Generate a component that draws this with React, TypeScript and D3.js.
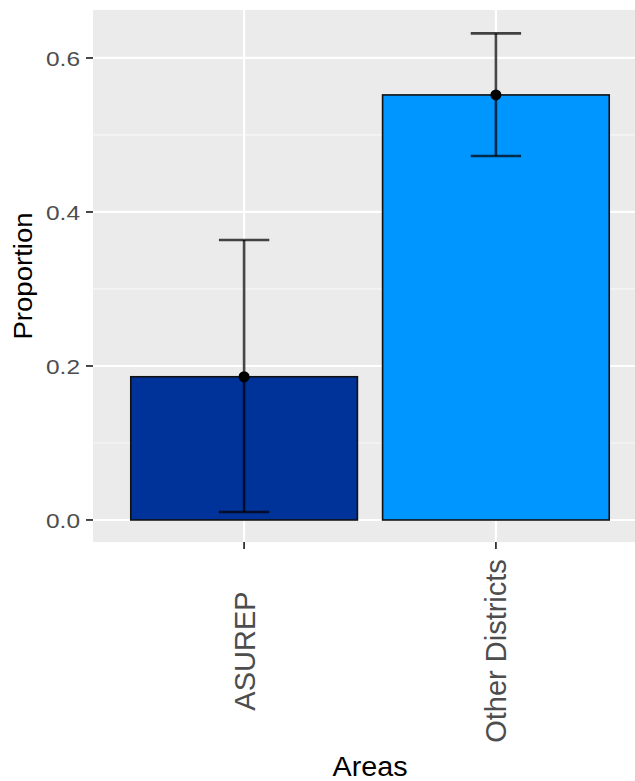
import { useEffect, useRef } from "react";
import * as d3 from "d3";

const areas = ["ASUREP", "Other Districts"];
const proportions = [0.186, 0.552];
const lowerCI = [0.0104, 0.4727];
const upperCI = [0.3636, 0.632];
const barColors = ["#00339A", "#0096FF"];
const yTicks = [0, 0.2, 0.4, 0.6];
const yMinorTicks = [0.1, 0.3, 0.5];

const WIDTH = 635;
const HEIGHT = 781;

export default function App() {
  const svgRef = useRef<SVGSVGElement>(null);

  useEffect(() => {
    if (!svgRef.current) return;
    const svg = d3.select(svgRef.current);
    svg.selectAll("*").remove();

    const panel = { left: 93, top: 10, right: 647, bottom: 542 };
    const font = "'Liberation Sans', Arial, sans-serif";

    // ggplot-like discrete x: categories at 1..n, expanded by 0.6 each side
    const x = d3.scaleLinear()
      .domain([0.4, areas.length + 0.6])
      .range([panel.left, panel.right]);

    const y = d3.scaleLinear()
      .domain([-0.0286, 0.6623])
      .range([panel.bottom, panel.top]);

    // Panel background
    svg.append("rect")
      .attr("x", panel.left)
      .attr("y", panel.top)
      .attr("width", panel.right - panel.left)
      .attr("height", panel.bottom - panel.top)
      .attr("fill", "#EBEBEB");

    // Minor gridlines
    svg.append("g")
      .selectAll("line")
      .data(yMinorTicks)
      .join("line")
      .attr("x1", panel.left)
      .attr("x2", panel.right)
      .attr("y1", d => y(d))
      .attr("y2", d => y(d))
      .attr("stroke", "#F7F7F7")
      .attr("stroke-width", 1.2);

    // Major gridlines
    svg.append("g")
      .selectAll("line")
      .data(yTicks)
      .join("line")
      .attr("x1", panel.left)
      .attr("x2", panel.right)
      .attr("y1", d => y(d))
      .attr("y2", d => y(d))
      .attr("stroke", "#FFFFFF")
      .attr("stroke-width", 2.2);

    svg.append("g")
      .selectAll("line")
      .data(areas)
      .join("line")
      .attr("x1", (_, i) => x(i + 1))
      .attr("x2", (_, i) => x(i + 1))
      .attr("y1", panel.top)
      .attr("y2", panel.bottom)
      .attr("stroke", "#FFFFFF")
      .attr("stroke-width", 2.2);

    // Bars
    const barHalf = x(1.45) - x(1);
    svg.append("g")
      .selectAll("rect")
      .data(proportions)
      .join("rect")
      .attr("x", (_, i) => x(i + 1) - barHalf)
      .attr("width", barHalf * 2)
      .attr("y", d => y(d))
      .attr("height", d => y(0) - y(d))
      .attr("fill", (_, i) => barColors[i])
      .attr("stroke", "#111")
      .attr("stroke-width", 1.6);

    // Error bars
    const capHalf = x(1.1) - x(1);
    const eb = svg.append("g")
      .attr("stroke", "#000")
      .attr("stroke-opacity", 0.72)
      .attr("stroke-width", 2.6);

    areas.forEach((_, i) => {
      const cx = x(i + 1);
      eb.append("line")
        .attr("x1", cx).attr("x2", cx)
        .attr("y1", y(upperCI[i])).attr("y2", y(lowerCI[i]));
      eb.append("line")
        .attr("x1", cx - capHalf).attr("x2", cx + capHalf)
        .attr("y1", y(upperCI[i])).attr("y2", y(upperCI[i]));
      eb.append("line")
        .attr("x1", cx - capHalf).attr("x2", cx + capHalf)
        .attr("y1", y(lowerCI[i])).attr("y2", y(lowerCI[i]));
    });

    // Mean points
    svg.append("g")
      .selectAll("circle")
      .data(proportions)
      .join("circle")
      .attr("cx", (_, i) => x(i + 1))
      .attr("cy", d => y(d))
      .attr("r", 5.5)
      .attr("fill", "#000");

    // Y axis ticks and labels
    const yAxis = svg.append("g");
    yAxis.selectAll("line")
      .data(yTicks)
      .join("line")
      .attr("x1", panel.left - 7)
      .attr("x2", panel.left)
      .attr("y1", d => y(d))
      .attr("y2", d => y(d))
      .attr("stroke", "#333")
      .attr("stroke-width", 1.8);

    yAxis.selectAll("text")
      .data(yTicks)
      .join("text")
      .attr("x", 80)
      .attr("y", d => y(d))
      .attr("dy", "0.36em")
      .attr("text-anchor", "end")
      .attr("font-family", font)
      .attr("font-size", 21)
      .attr("textLength", 34)
      .attr("lengthAdjust", "spacingAndGlyphs")
      .attr("fill", "#4D4D4D")
      .text(d => d3.format(".1f")(d));

    // X axis ticks and labels (rotated, centred in the label band)
    const xAxis = svg.append("g");
    xAxis.selectAll("line")
      .data(areas)
      .join("line")
      .attr("x1", (_, i) => x(i + 1))
      .attr("x2", (_, i) => x(i + 1))
      .attr("y1", panel.bottom)
      .attr("y2", panel.bottom + 7)
      .attr("stroke", "#333")
      .attr("stroke-width", 1.8);

    xAxis.selectAll("text")
      .data(areas)
      .join("text")
      .attr("transform", (_, i) => `translate(${x(i + 1)},651) rotate(-90)`)
      .attr("dy", "0.36em")
      .attr("text-anchor", "middle")
      .attr("font-family", font)
      .attr("font-size", 29)
      .attr("fill", "#4D4D4D")
      .text(d => d);

    // Axis titles
    svg.append("text")
      .attr("x", x((areas.length + 1) / 2))
      .attr("y", 776)
      .attr("text-anchor", "middle")
      .attr("font-family", font)
      .attr("font-size", 27)
      .attr("textLength", 75)
      .attr("lengthAdjust", "spacingAndGlyphs")
      .attr("fill", "#000")
      .text("Areas");

    svg.append("text")
      .attr("transform", `translate(32,${(panel.top + panel.bottom) / 2}) rotate(-90)`)
      .attr("text-anchor", "middle")
      .attr("font-family", font)
      .attr("font-size", 25)
      .attr("textLength", 127)
      .attr("lengthAdjust", "spacingAndGlyphs")
      .attr("fill", "#000")
      .text("Proportion");
  }, []);

  return (
    <svg
      ref={svgRef}
      width={WIDTH}
      height={HEIGHT}
      viewBox={`0 0 ${WIDTH} ${HEIGHT}`}
      style={{ position: "absolute", left: 0, top: 0, background: "#fff", overflow: "hidden" }}
    />
  );
}
